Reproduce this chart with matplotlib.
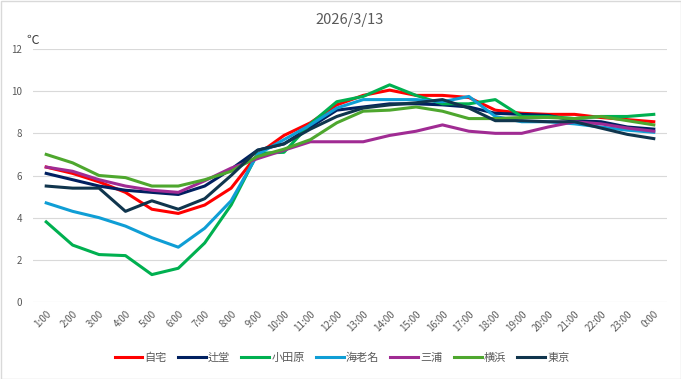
import matplotlib
matplotlib.use("Agg")
import matplotlib.pyplot as plt
from matplotlib.patches import Rectangle

plt.rcParams['font.family'] = ['Noto Sans CJK JP', 'DejaVu Sans']

hours = ["1:00", "2:00", "3:00", "4:00", "5:00", "6:00", "7:00", "8:00", "9:00", "10:00",
         "11:00", "12:00", "13:00", "14:00", "15:00", "16:00", "17:00", "18:00", "19:00",
         "20:00", "21:00", "22:00", "23:00", "0:00"]

jitaku = [6.4, 6.1, 5.7, 5.2, 4.4, 4.2, 4.6, 5.4, 7.0, 7.9, 8.5, 9.35, 9.8, 10.05, 9.8, 9.8,
          9.7, 9.1, 8.95, 8.9, 8.9, 8.75, 8.65, 8.55]
tsujido = [6.1, 5.8, 5.5, 5.3, 5.2, 5.1, 5.5, 6.3, 7.2, 7.5, 8.3, 9.1, 9.25, 9.4, 9.4, 9.35,
           9.25, 8.95, 8.9, 8.85, 8.6, 8.55, 8.3, 8.2]
odawara = [3.8, 2.7, 2.25, 2.2, 1.3, 1.6, 2.8, 4.6, 7.05, 7.1, 8.45, 9.5, 9.75, 10.3, 9.8, 9.4,
           9.4, 9.6, 8.8, 8.8, 8.7, 8.8, 8.8, 8.9]
ebina = [4.7, 4.3, 4.0, 3.6, 3.05, 2.6, 3.5, 4.8, 7.0, 7.7, 8.4, 9.2, 9.6, 9.6, 9.6, 9.5,
         9.75, 8.8, 8.55, 8.55, 8.45, 8.3, 8.15, 8.05]
miura = [6.4, 6.2, 5.8, 5.5, 5.3, 5.2, 5.75, 6.35, 6.8, 7.2, 7.6, 7.6, 7.6, 7.9, 8.1, 8.4,
         8.1, 8.0, 8.0, 8.3, 8.55, 8.45, 8.25, 8.1]
yokohama = [7.0, 6.6, 6.0, 5.9, 5.5, 5.5, 5.8, 6.2, 6.9, 7.25, 7.7, 8.5, 9.05, 9.1, 9.25, 9.05,
            8.7, 8.7, 8.75, 8.75, 8.7, 8.8, 8.6, 8.4]
tokyo = [5.5, 5.4, 5.4, 4.3, 4.8, 4.4, 4.9, 6.0, 7.2, 7.5, 8.2, 8.8, 9.2, 9.35, 9.45, 9.6,
         9.2, 8.6, 8.6, 8.55, 8.55, 8.25, 7.95, 7.75]

series = [
    ("自宅", jitaku, "#FF0000"),
    ("辻堂", tsujido, "#002060"),
    ("小田原", odawara, "#00B050"),
    ("海老名", ebina, "#0F9ED5"),
    ("三浦", miura, "#A02B93"),
    ("横浜", yokohama, "#4EA72E"),
    ("東京", tokyo, "#10354D"),
]

fig = plt.figure(figsize=(6.81, 3.79), dpi=100)
ax = fig.add_axes([33 / 681, 1 - 302 / 379, 634 / 681, 253 / 379])

x = list(range(len(hours)))
for name, vals, col in series:
    ax.plot(x, vals, color=col, lw=2.2, label=name, solid_joinstyle='round')

ax.set_xlim(-0.5, len(hours) - 0.5)
ax.set_ylim(0, 12)
ax.set_yticks([0, 2, 4, 6, 8, 10, 12])
ax.set_xticks(x)
ax.set_xticklabels(hours, rotation=45, ha='right', va='top', rotation_mode='anchor')
ax.tick_params(axis='both', length=0, colors='#595959', labelsize=7)
ax.tick_params(axis='y', pad=8)
ax.tick_params(axis='x', pad=5)
ax.grid(axis='y', color='#D9D9D9', lw=0.8)
ax.set_axisbelow(True)
for s in ax.spines.values():
    s.set_visible(False)

fig.text(350 / 681, 1 - 20 / 379, "2026/3/13", ha='center', va='center', fontsize=10.5, color='#595959')
fig.text(33 / 681, 1 - 40 / 379, "℃", ha='center', va='center', fontsize=9, color='#404040')

leg = fig.legend(loc='center', bbox_to_anchor=(342 / 681, 1 - 358 / 379), ncol=7, frameon=False,
                 fontsize=8, handlelength=2.5, handletextpad=0.2, columnspacing=1.0)
for t in leg.get_texts():
    t.set_color('#595959')

fig.patches.append(Rectangle((0.5 / 681, 0.5 / 379), 1 - 1 / 681, 1 - 1 / 379, transform=fig.transFigure,
                             fill=False, edgecolor='#D9D9D9', lw=1))

fig.savefig("out.png", dpi=100)
